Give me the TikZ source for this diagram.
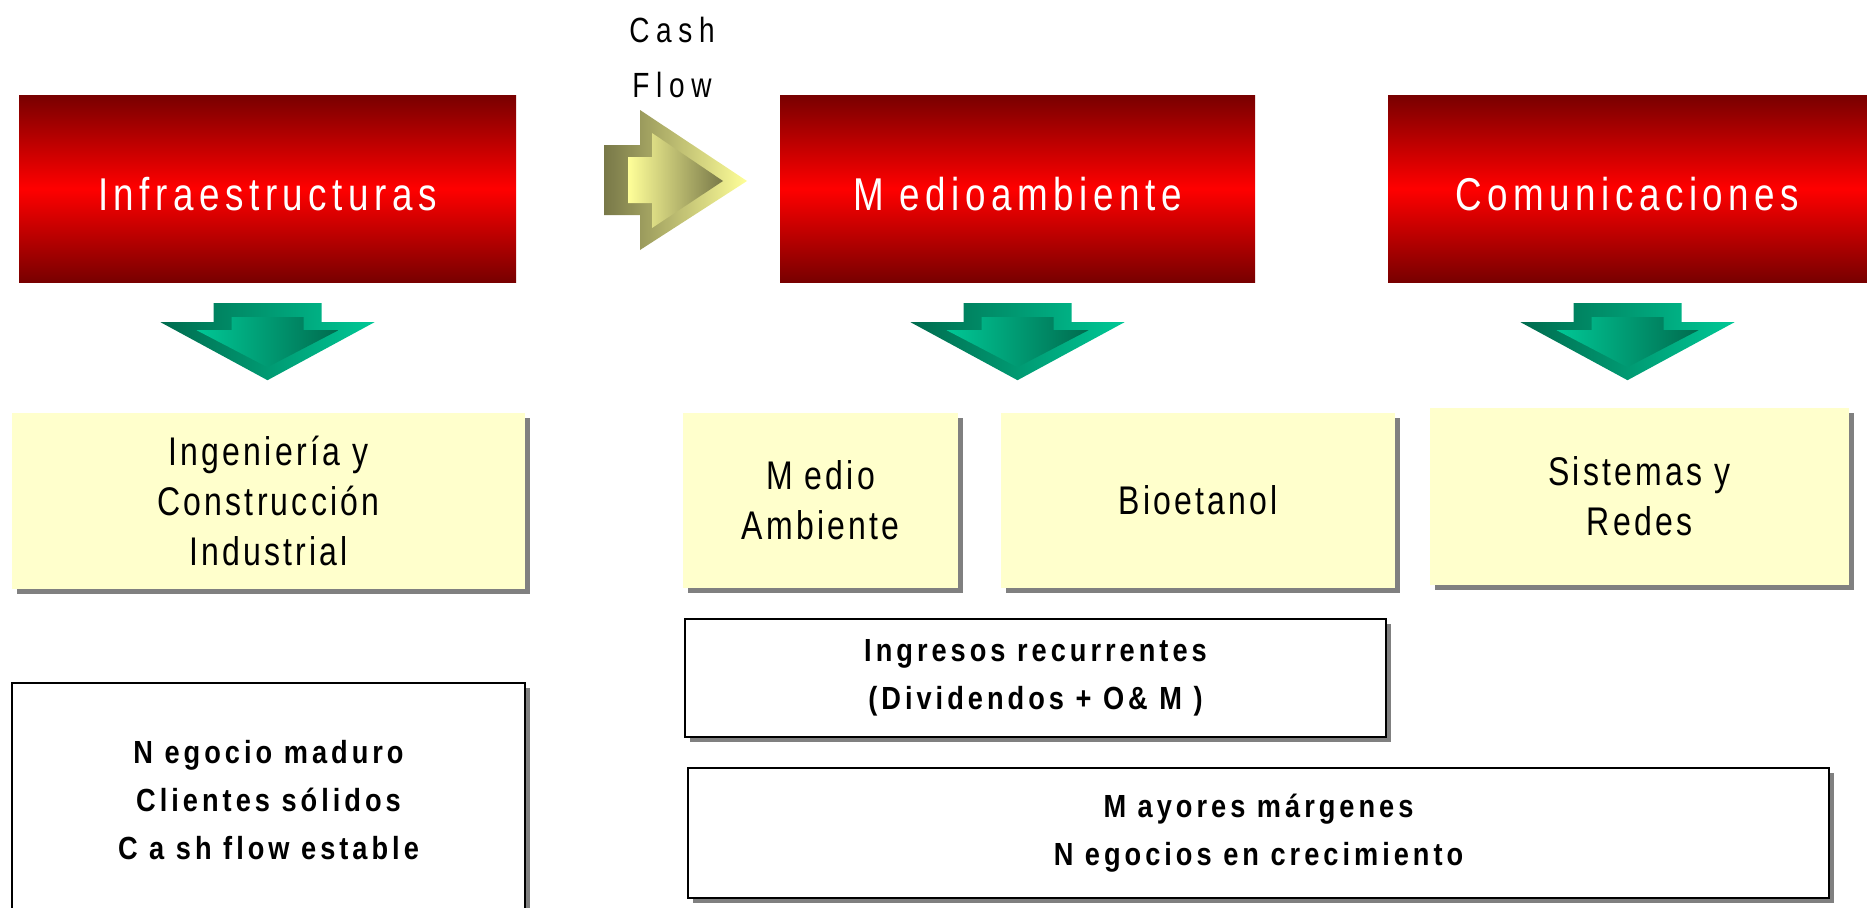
\documentclass[tikz,border=0pt]{standalone}
\usepackage{fontspec}
\setmainfont{Liberation Sans}
\newfontfamily\redfont[FakeStretch=0.8,LetterSpace=12]{Liberation Sans}
\newfontfamily\paperfont[FakeStretch=0.8,LetterSpace=8]{Liberation Sans}
\newfontfamily\cashfont[FakeStretch=0.8,LetterSpace=19]{Liberation Sans}
\newfontfamily\notefont[FakeStretch=0.85,LetterSpace=12.5]{Liberation Sans}
\usetikzlibrary{shadows}

\definecolor{darkred}{HTML}{780000}
\definecolor{boxyellow}{HTML}{FFFFCC}
\definecolor{shadowgray}{HTML}{808080}
\definecolor{olivedark}{HTML}{787848}
\definecolor{olivelight}{HTML}{FFFF99}
\definecolor{greendark}{HTML}{006B4E}
\definecolor{greenlight}{HTML}{00C896}

\tikzset{
  greyshadow/.style={drop shadow={shadow xshift=5pt, shadow yshift=-5pt, fill=shadowgray, opacity=1}},
  redbox/.style={top color=darkred, bottom color=darkred, middle color=red,
    minimum height=187pt, inner sep=0pt, text=white,
    font=\fontsize{46}{55}\redfont, text height=43pt, text depth=0pt},
  paperbox/.style={fill=boxyellow, greyshadow, align=center, inner sep=0pt,
    font=\fontsize{40}{50}\paperfont},
  notebox/.style={draw=black, line width=1.5pt, fill=white, greyshadow, align=center,
    inner sep=0pt, font=\fontsize{32}{48}\notefont\bfseries},
}

\begin{document}
\begin{tikzpicture}[x=1pt,y=-1pt]

\path[use as bounding box, clip] (0,0) rectangle (1867,907);

\node[redbox, minimum width=497pt] (infra) at (267.5,188.5) {Infraestructuras};
\node[redbox, minimum width=475pt] (medio) at (1017.5,188.5) {M edioambiente};
\node[redbox, minimum width=479pt] (comunic) at (1627.5,188.5) {Comunicaciones};

\node[align=center, font=\fontsize{35}{55}\cashfont] (cashlabel) at (672,57) {Cash\\Flow};

\shade[left color=olivedark, right color=olivelight]
  (604,145) -- (640,145) -- (640,110) -- (747,181) -- (640,250) -- (640,215) -- (604,215) -- cycle;
\shade[left color=olivelight, right color=olivedark]
  (628,157) -- (652,157) -- (652,133) -- (723,181) -- (652,228) -- (652,203) -- (628,203) -- cycle;

\foreach \n in {infra, medio, comunic} {
  \begin{scope}[shift={(\n.south)}]
    \shade[left color=greendark, right color=greenlight]
      (-54,21) -- (54,21) -- (54,40) -- (107,40) -- (0,98) -- (-107,40) -- (-54,40) -- cycle;
    \shade[left color=greenlight, right color=greendark]
      (-36,35) -- (36,35) -- (36,48) -- (71,48) -- (0,85) -- (-71,48) -- (-36,48) -- cycle;
  \end{scope}
}

\node[paperbox, minimum width=513pt, minimum height=176pt] (ingenieria) at (268.5,501) {Ingeniería y\\Construcción\\Industrial};
\node[paperbox, minimum width=275pt, minimum height=175pt] (medioamb) at (820.5,500.5) {M edio\\Ambiente};
\node[paperbox, minimum width=394pt, minimum height=175pt] (bioetanol) at (1198,500.5) {Bioetanol};
\node[paperbox, minimum width=419pt, minimum height=177pt] (sistemas) at (1639.5,496.5) {Sistemas y\\Redes};

\node[notebox, minimum width=701pt, minimum height=118pt] (ingresos) at (1035.5,678) {Ingresos recurrentes\\(Dividendos + O\& M )};
\node[notebox, minimum width=1141pt, minimum height=130pt] (mayores) at (1258.5,833) {M ayores márgenes\\N egocios en crecimiento};
\node[notebox, minimum width=513pt, minimum height=235pt] (negocio) at (268.5,800.5) {N egocio maduro\\Clientes sólidos\\C a sh flow estable};

\end{tikzpicture}
\end{document}
